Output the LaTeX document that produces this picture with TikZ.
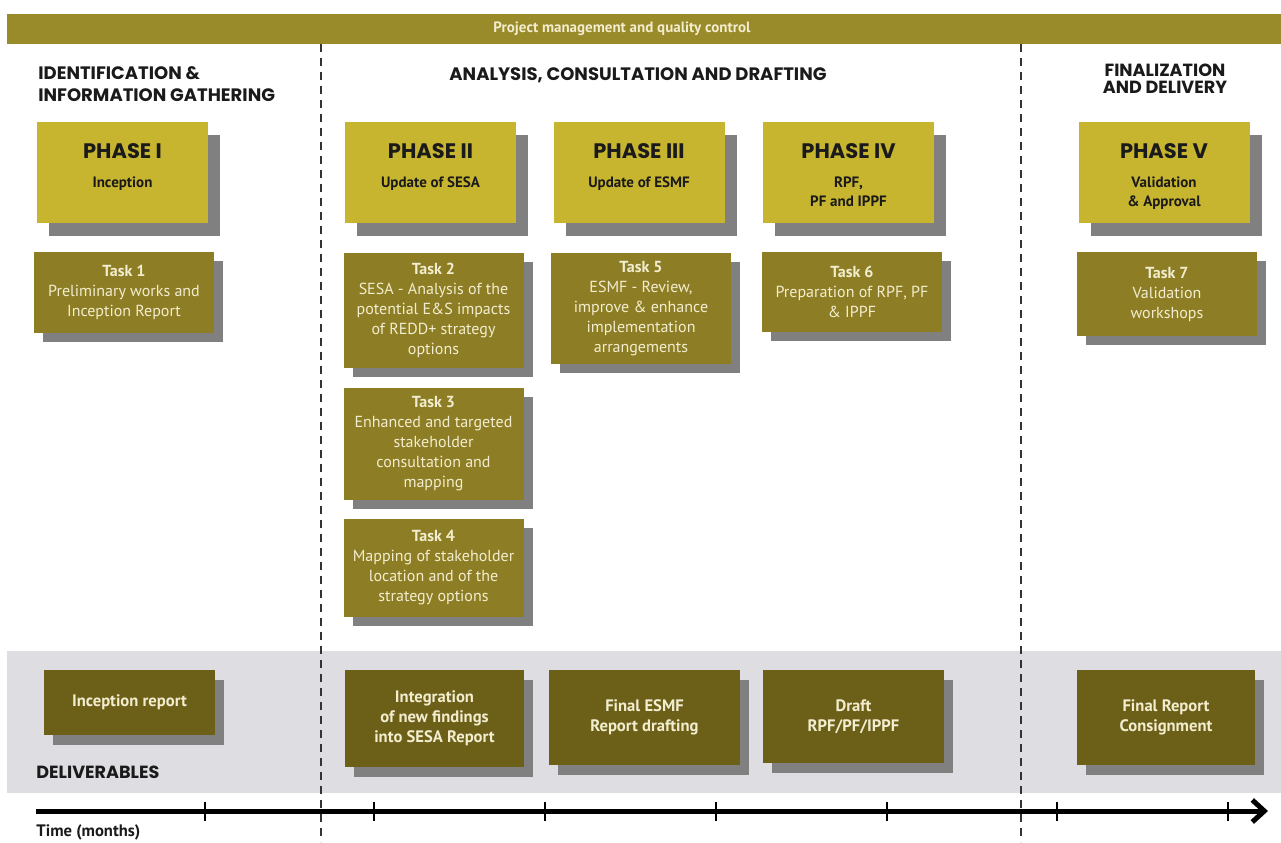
\documentclass[tikz,border=0pt]{standalone}
\usepackage{fontspec}
\setmainfont{PT Sans}
\newfontfamily\headfont{Poppins}
\usetikzlibrary{arrows.meta,shadows}

\definecolor{pmolive}{HTML}{998A2A}
\definecolor{phaseyellow}{HTML}{C8B52F}
\definecolor{taskolive}{HTML}{8D7E25}
\definecolor{delivolive}{HTML}{6C6019}
\definecolor{shadowgrey}{HTML}{808080}
\definecolor{bandgrey}{HTML}{DDDDE2}
\definecolor{creamtext}{HTML}{F3EDCF}
\definecolor{inkdark}{HTML}{1A1A1A}

% phase box text: title on top, subtitle lines below
\newcommand\phasetext[2]{\parbox[c][46pt][t]{80pt}{\centering
  {\headfont\fontsize{10.5}{13}\selectfont\rule{0pt}{16pt}#1}\\[5pt]#2}}

\tikzset{
  phasebox/.style={fill=phaseyellow, inner sep=2pt,
    minimum width=85.5pt, minimum height=50.5pt, text=inkdark,
    font=\fontsize{7.5}{9.5}\selectfont\bfseries,
    drop shadow={shadow xshift=6pt, shadow yshift=-6.5pt, fill=shadowgrey, opacity=1}},
  taskbox/.style={fill=taskolive, align=center, inner sep=2pt,
    minimum width=90pt, text=creamtext,
    font=\fontsize{8}{10}\selectfont,
    drop shadow={shadow xshift=4.5pt, shadow yshift=-4.5pt, fill=shadowgrey, opacity=1}},
  delivbox/.style={fill=delivolive, align=center, inner sep=2pt,
    text=creamtext, font=\fontsize{8.3}{10}\selectfont\bfseries,
    drop shadow={shadow xshift=4.5pt, shadow yshift=-5pt, fill=shadowgrey, opacity=1}},
  header/.style={align=center, inner sep=0pt, text=inkdark,
    font=\headfont\fontsize{9}{10.5}\selectfont\bfseries},
  sepline/.style={dashed, dash pattern=on 4pt off 3pt, line width=0.7pt, black!80},
  timeline/.style={line width=2.5pt, -{Straight Barb[length=6pt, width=11pt]}},
  tickline/.style={line width=0.7pt, black},
}

\begin{document}
\begin{tikzpicture}[x=0.5pt, y=-0.5pt]
  \useasboundingbox (0,0) rectangle (1281,842);

  % management bar and deliverables band
  \fill[pmolive] (7,14) rectangle (1281,44);
  \node[text=creamtext, font=\fontsize{7.5}{9}\selectfont\bfseries] (mgmt) at (622,29) {Project management and quality control};
  \fill[bandgrey] (7,651) rectangle (1281,793);

  % stage separators
  \draw[sepline] (321,44) -- (321,842);
  \draw[sepline] (1021,44) -- (1021,842);

  % stage headings
  \node[header, align=left, anchor=west, font=\headfont\fontsize{9}{11}\selectfont\bfseries] (ident) at (38,84) {IDENTIFICATION \&\\INFORMATION GATHERING};
  \node[header] (analysis) at (638,75) {ANALYSIS, CONSULTATION AND DRAFTING};
  \node[header, font=\headfont\fontsize{8.8}{8.6}\selectfont\bfseries] (final) at (1165,79) {FINALIZATION\\AND DELIVERY};

  % phases
  \node[phasebox] (ph1) at (122.5,172.5) {\phasetext{PHASE I}{Inception}};
  \node[phasebox] (ph2) at (430.5,172.5) {\phasetext{PHASE II}{Update of SESA}};
  \node[phasebox] (ph3) at (639,172.5) {\phasetext{PHASE III}{Update of ESMF}};
  \node[phasebox] (ph4) at (848.5,172.5) {\phasetext{PHASE IV}{RPF,\\PF and IPPF}};
  \node[phasebox] (ph5) at (1164,172.5) {\phasetext{PHASE V}{Validation\\\& Approval}};

  % tasks
  \node[taskbox, minimum height=40.5pt] (task1) at (124,292.5) {\textbf{Task 1}\\Preliminary works and\\Inception Report};
  \node[taskbox, minimum height=57.5pt] (task2) at (433.5,310.5) {\textbf{Task 2}\\SESA - Analysis of the\\potential E\&S impacts\\of REDD+ strategy\\options};
  \node[taskbox, minimum height=56pt] (task3) at (433.5,444) {\textbf{Task 3}\\Enhanced and targeted\\stakeholder\\consultation and\\mapping};
  \node[taskbox, minimum height=49pt] (task4) at (433.5,568) {\textbf{Task 4}\\Mapping of stakeholder\\location and of the\\strategy options};
  \node[taskbox, minimum height=55.5pt] (task5) at (641,308.5) {\textbf{Task 5}\\ESMF - Review,\\improve \& enhance\\implementation\\arrangements};
  \node[taskbox, minimum height=40pt] (task6) at (852,292) {\textbf{Task 6}\\Preparation of RPF, PF\\\& IPPF};
  \node[taskbox, minimum height=42pt] (task7) at (1167,294) {\textbf{Task 7}\\Validation\\workshops};

  % deliverables
  \node[delivbox, minimum width=85.5pt, minimum height=32.5pt] (del1) at (129.5,702.5) {Inception report};
  \node[delivbox, minimum width=89.5pt, minimum height=48.5pt] (del2) at (434.5,718.5) {Integration\\of new findings\\into SESA Report};
  \node[delivbox, minimum width=95.5pt, minimum height=47.5pt] (del3) at (644.5,717.5) {Final ESMF\\Report drafting};
  \node[delivbox, minimum width=90.5pt, minimum height=46.5pt] (del4) at (853.5,716.5) {Draft\\RPF/PF/IPPF};
  \node[delivbox, minimum width=89pt, minimum height=47.5pt] (del5) at (1166,717.5) {Final Report\\Consignment};
  \node[header, anchor=west, font=\headfont\fontsize{8.8}{10}\selectfont\bfseries] (deliv) at (36,772) {DELIVERABLES};

  % time axis
  \coordinate (tstart) at (36,811);
  \coordinate (tend) at (1268,811);
  \draw[timeline] (tstart) -- (tend);
  \foreach \tx in {205,374,545,716,887,1057,1228}
    \draw[tickline] (\tx,802) -- (\tx,821);
  \node[anchor=west, inner sep=0pt, text=inkdark, font=\fontsize{8.3}{9}\selectfont\bfseries] (time) at (36,832) {Time (months)};
\end{tikzpicture}
\end{document}
